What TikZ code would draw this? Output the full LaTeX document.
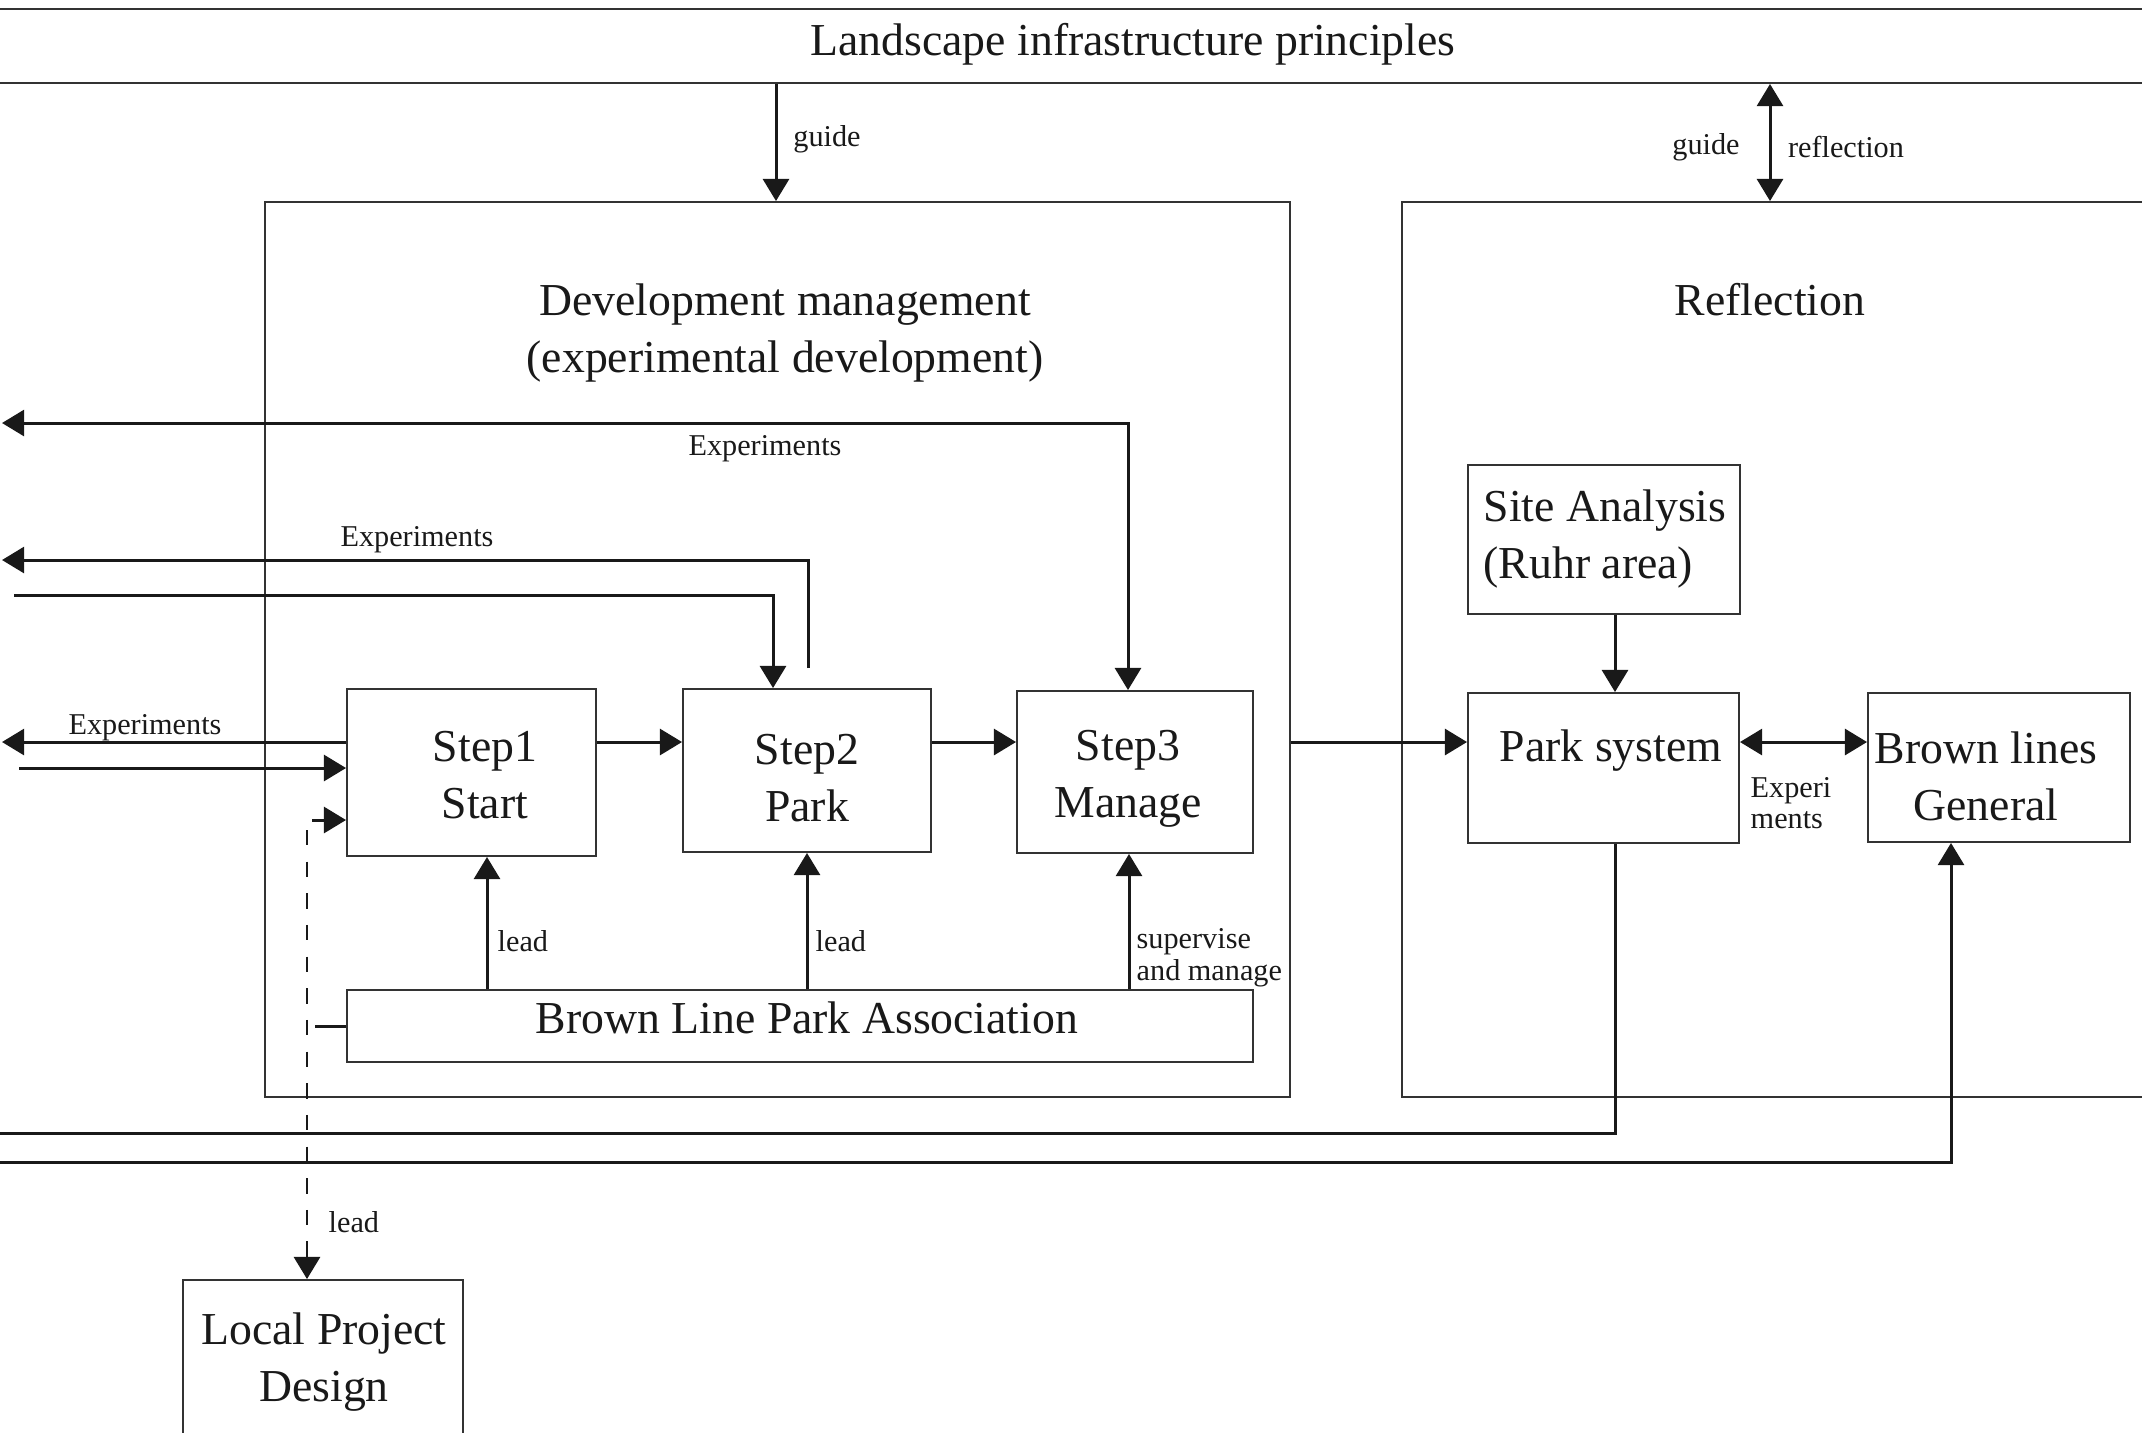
\documentclass[tikz,border=0pt]{standalone}
\usepackage{fontspec}
\setmainfont{Liberation Serif}
\usetikzlibrary{arrows.meta,fit,calc}
\newcommand\bigf{\fontsize{13}{16.2}\selectfont}
\newcommand\smf{\fontsize{8.6}{9}\selectfont}
\begin{document}
\begin{tikzpicture}[x=0.01cm,y=-0.01cm,
  box/.style={draw=black!80, line width=0.55pt, inner sep=0pt},
  conn/.style={line width=0.85pt, draw=black!90},
  arr/.style={conn, -{Triangle[length=6.3pt,width=7.4pt]}},
  arrb/.style={conn, {Triangle[length=6.3pt,width=7.4pt]}-{Triangle[length=6.3pt,width=7.4pt]}},
  darr/.style={conn, dash pattern=on 4.4pt off 4.6pt, -{Triangle[length=6.3pt,width=7.4pt]}},
  big/.style={font=\bigf, inner sep=0pt, align=center, text=black!90},
  lbl/.style={font=\smf, inner sep=0pt, text=black!90}]
\useasboundingbox (0,0) rectangle (2142,1432);
\clip (0,0) rectangle (2142,1432);
\fill[white] (0,0) rectangle (2142,1432);

% boxes
\node[box, fit={(-20,9)(2170,83)}] (lip) {};
\node[box, fit={(265,202)(1290,1097)}] (dev) {};
\node[box, fit={(1402,202)(2180,1097)}] (refl) {};
\node[box, fit={(347,689)(596,856)}] (s1) {};
\node[box, fit={(683,689)(931,852)}] (s2) {};
\node[box, fit={(1017,691)(1253,853)}] (s3) {};
\node[box, fit={(347,990)(1253,1062)}] (blpa) {};
\node[box, fit={(1468,465)(1740,614)}] (site) {};
\node[box, fit={(1468,693)(1739,843)}] (park) {};
\node[box, fit={(1868,693)(2130,842)}] (bl) {};
\node[box, fit={(183,1280)(463,1460)}] (lpd) {};

% texts
\node[big] (tlip) at (1133,44) {Landscape infrastructure principles};
\node[big] (tdev) at (785,333) {Development management\\(experimental development)};
\node[big] (trefl) at (1770,300) {Reflection};
\node[big] (ts1) at (485,775) {Step1\\Start};
\node[big] (ts2) at (807,778) {Step2\\Park};
\node[big] (ts3) at (1128,779) {Step3\\Manage};
\node[big, anchor=west, align=left] (tsite) at (1483,539) {Site Analysis\\(Ruhr area)};
\node[big] (tpark) at (1611,751) {Park system};
\node[big] (tbl) at (1986,776) {Brown lines\\General};
\node[big] (tblpa) at (807,1018) {Brown Line Park Association};
\node[big] (tlpd) at (324,1362) {Local Project\\Design};

\node[lbl] (g1) at (827,139) {guide};
\node[lbl] (g2) at (1706,147) {guide};
\node[lbl] (rf) at (1846,147) {reflection};
\node[lbl] (e1) at (765,449) {Experiments};
\node[lbl] (e2) at (417,540) {Experiments};
\node[lbl] (e3) at (145,728) {Experiments};
\node[lbl, anchor=west, align=left] (e4) at (1750,803) {Experi\\ments};
\node[lbl, anchor=west] (l1) at (497,941) {lead};
\node[lbl, anchor=west] (l2) at (815,941) {lead};
\node[lbl, anchor=west, align=left] (sm) at (1136,958) {supervise\\and manage};
\node[lbl, anchor=west] (l3) at (328,1222) {lead};

% helper coordinates
\coordinate (cg) at (776,0);
\coordinate (cr) at (1770,0);
\coordinate (row) at (0,742);
\coordinate (c1) at (487,0);
\coordinate (c2) at (807,0);
\coordinate (c3) at (1129,0);
\coordinate (cx) at (1615,0);
\coordinate (bx) at (1951,0);
\coordinate (L1) at (2,423);
\coordinate (L2) at (2,560);
\coordinate (L3) at (14,595);
\coordinate (L4) at (2,742);
\coordinate (L5) at (19,768);
\coordinate (L6) at (-5,1133);
\coordinate (L7) at (-5,1162);
\coordinate (k1) at (1128,0);
\coordinate (k2) at (808,668);
\coordinate (k3) at (773,0);
\coordinate (d1) at (307,830);
\coordinate (d2) at (312,820);
\coordinate (d3) at (315,1026);

% connectors
\draw[arr] (lip.south -| cg) -- (dev.north -| cg);
\draw[arrb] (lip.south -| cr) -- (refl.north -| cr);
\draw[arrb] (L1) -| (s3.north -| k1);
\draw[arr] (k2) |- (L2);
\draw[arr] (L3) -| (s2.north -| k3);
\draw[arr] (s1.west |- L4) -- (L4);
\draw[arr] (L5) -- (s1.west |- L5);
\draw[arr] (s1.east |- row) -- (s2.west |- row);
\draw[arr] (s2.east |- row) -- (s3.west |- row);
\draw[arr] (dev.east |- row) -- (park.west |- row);
\draw[arrb] (park.east |- row) -- (bl.west |- row);
\draw[arr] (site.south -| cx) -- (park.north -| cx);
\draw[conn] (park.south -| cx) |- (L6);
\draw[arr] (L7) -| (bl.south -| bx);
\draw[arr] (blpa.north -| c1) -- (s1.south -| c1);
\draw[arr] (blpa.north -| c2) -- (s2.south -| c2);
\draw[arr] (blpa.north -| c3) -- (s3.south -| c3);
\draw[darr] (d1) -- (lpd.north -| d1);
\draw[arr] (d2) -- (s1.west |- d2);
\draw[conn] (blpa.west |- d3) -- (d3);
\end{tikzpicture}
\end{document}
